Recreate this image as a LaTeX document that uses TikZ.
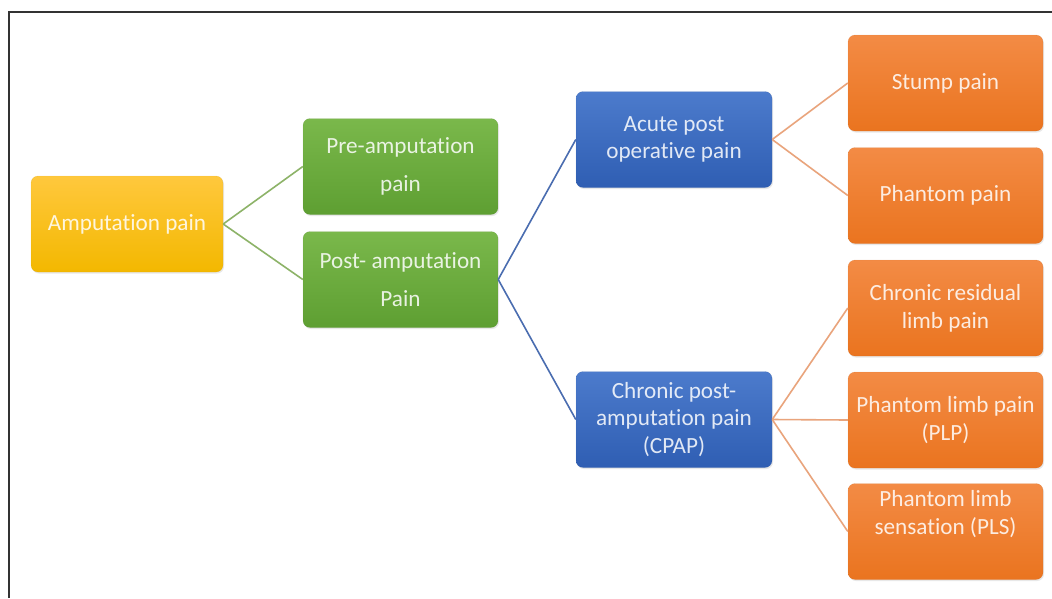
\documentclass[tikz,border=0pt]{standalone}
\usepackage{fontspec}
\setmainfont{Carlito}[Ligatures=NoCommon]
\usetikzlibrary{shadows}
\definecolor{ytop}{HTML}{FFC83D}
\definecolor{ybot}{HTML}{F3B800}
\definecolor{gtop}{HTML}{7AB84B}
\definecolor{gbot}{HTML}{5E9F32}
\definecolor{btop}{HTML}{4C7BCC}
\definecolor{bbot}{HTML}{2F5EB3}
\definecolor{otop}{HTML}{F38B45}
\definecolor{obot}{HTML}{EA741F}
\definecolor{gl}{HTML}{8DB368}
\definecolor{bl}{HTML}{4A6DB0}
\definecolor{ol}{HTML}{E9A47C}
\definecolor{frame}{HTML}{333333}
\tikzset{
  box/.style={rounded corners=7pt, minimum width=195pt, minimum height=96pt,
    inner sep=0pt, align=center, text=white, text opacity=0.85,
    font=\fontsize{23.2}{27.8}\selectfont,
    drop shadow={opacity=0.18, shadow xshift=1pt, shadow yshift=-1.5pt}},
  ybox/.style={box, top color=ytop, bottom color=ybot, draw=ybot!80!black, draw opacity=0.25, minimum width=192pt},
  gbox/.style={box, top color=gtop, bottom color=gbot, draw=gbot!80!black, draw opacity=0.25},
  bbox/.style={box, top color=btop, bottom color=bbot, draw=bbot!80!black, draw opacity=0.25, minimum width=196pt},
  obox/.style={box, top color=otop, bottom color=obot, draw=obot!80!black, draw opacity=0.25},
  btext/.style={inner sep=0pt, align=center, text=white, text opacity=0.85,
    font=\fontsize{23.2}{27.8}\selectfont},
  gline/.style={draw=gl, line width=1.6pt},
  bline/.style={draw=bl, line width=1.6pt},
  oline/.style={draw=ol, line width=1.6pt},
}
\begin{document}
\begin{tikzpicture}[x=1pt, y=-1pt]
  \useasboundingbox (0,0) rectangle (1052,598);
  \fill[white] (0,0) rectangle (1052,598);
  \draw[frame, line width=2pt] (8.5,598) -- (8.5,11.5) -- (1052,11.5);

  \node[ybox] (amp) at (127,224) {Amputation pain};
  \node[gbox] (pre) at (400.5,166.5) {Pre-amputation\\[10pt]pain};
  \node[gbox] (post) at (400.5,279.5) {Post- amputation\\[10pt]Pain};
  \node[bbox] (acute) at (674,139.5) {Acute post\\operative pain};
  \node[bbox] (cpap) at (674,419.5) {Chronic post-\\amputation pain\\(CPAP)};
  \node[obox] (stump) at (945.5,83) {Stump pain};
  \node[obox] (phantom) at (945.5,195.5) {Phantom pain};
  \node[obox] (crlp) at (945.5,308) {Chronic residual\\limb pain};
  \node[obox] (plp) at (945.5,420) {Phantom limb pain\\(PLP)};
  \node[obox] (pls) at (945.5,531.5) {};
  \node[btext] (plstext) at (945.5,514) {Phantom limb\\sensation (PLS)};

  \draw[gline] (amp.east) -- (pre.west);
  \draw[gline] (amp.east) -- (post.west);
  \draw[bline] (post.east) -- (acute.west);
  \draw[bline] (post.east) -- (cpap.west);
  \draw[oline] (acute.east) -- (stump.west);
  \draw[oline] (acute.east) -- (phantom.west);
  \draw[oline] (cpap.east) -- (crlp.west);
  \draw[oline] (cpap.east) -- (plp.west);
  \draw[oline] (cpap.east) -- (pls.west);
\end{tikzpicture}
\end{document}
